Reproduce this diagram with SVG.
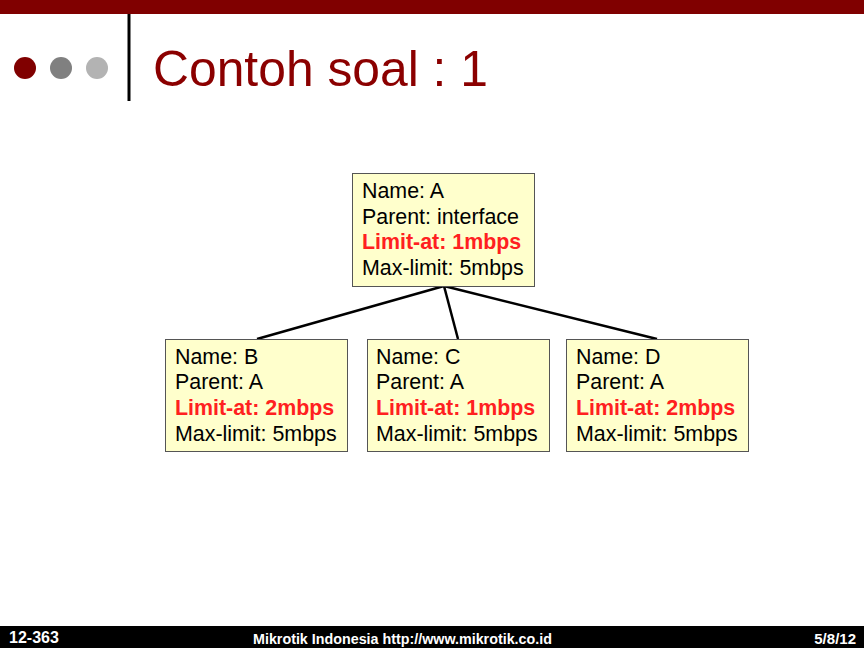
<svg xmlns="http://www.w3.org/2000/svg" width="864" height="648" viewBox="0 0 864 648">
<style>
.box{fill:#ffffcc;stroke:#555;stroke-width:1}
.t{font-family:"Liberation Sans",Arial,sans-serif;font-size:21.4px;fill:#000}
.r{font-weight:bold;fill:#ff2020}
.conn{stroke:#000;stroke-width:2.5;fill:none}
.ft{font-family:"Liberation Sans",Arial,sans-serif;font-weight:bold;fill:#fff}
</style>
<rect x="0" y="0" width="864" height="648" fill="#fff"/>
<rect x="0" y="0" width="864" height="14" fill="#800000"/>
<line x1="129" y1="14" x2="129" y2="101" stroke="#000" stroke-width="3"/>
<circle cx="25" cy="68" r="11" fill="#800000"/>
<circle cx="61" cy="68" r="11" fill="#808080"/>
<circle cx="97" cy="68" r="11" fill="#b3b3b3"/>
<text x="153" y="86" font-family="Liberation Sans,Arial,sans-serif" font-size="49.8" fill="#8b0000">Contoh soal : 1</text>
<g id="connectors">
<line class="conn" x1="444" y1="286" x2="257" y2="339"/>
<line class="conn" x1="444" y1="286" x2="458" y2="339"/>
<line class="conn" x1="444" y1="286" x2="657" y2="339"/>
</g>
<g id="nodeA">
<rect class="box" x="352.5" y="173.5" width="182" height="113"/>
<text class="t" x="362" y="198">Name: A</text>
<text class="t" x="362" y="224">Parent: interface</text>
<text class="t r" x="362" y="249">Limit-at: 1mbps</text>
<text class="t" x="362" y="275">Max-limit: 5mbps</text>
</g>
<g id="nodeB">
<rect class="box" x="165.5" y="339.5" width="182" height="112"/>
<text class="t" x="175" y="364">Name: B</text>
<text class="t" x="175" y="389">Parent: A</text>
<text class="t r" x="175" y="415">Limit-at: 2mbps</text>
<text class="t" x="175" y="441">Max-limit: 5mbps</text>
</g>
<g id="nodeC">
<rect class="box" x="367.5" y="339.5" width="182" height="112"/>
<text class="t" x="376" y="364">Name: C</text>
<text class="t" x="376" y="389">Parent: A</text>
<text class="t r" x="376" y="415">Limit-at: 1mbps</text>
<text class="t" x="376" y="441">Max-limit: 5mbps</text>
</g>
<g id="nodeD">
<rect class="box" x="566.5" y="339.5" width="182" height="112"/>
<text class="t" x="576" y="364">Name: D</text>
<text class="t" x="576" y="389">Parent: A</text>
<text class="t r" x="576" y="415">Limit-at: 2mbps</text>
<text class="t" x="576" y="441">Max-limit: 5mbps</text>
</g>
<rect x="0" y="626" width="864" height="22" fill="#000"/>
<text class="ft" x="9" y="643" font-size="16">12-363</text>
<text class="ft" x="253" y="644" font-size="14.3">Mikrotik Indonesia http://www.mikrotik.co.id</text>
<text class="ft" x="856" y="644" font-size="15" text-anchor="end">5/8/12</text>
</svg>
